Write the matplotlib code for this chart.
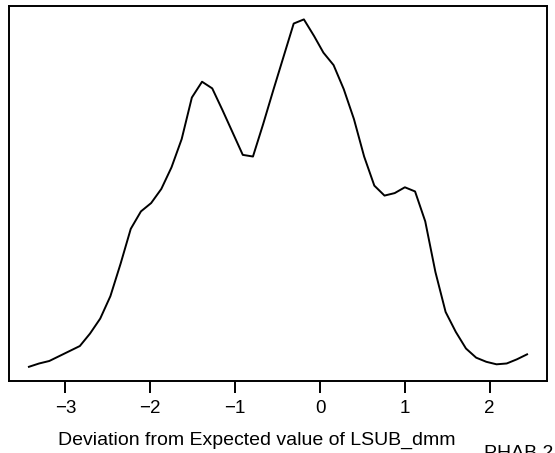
import matplotlib
matplotlib.use("Agg")
import matplotlib.pyplot as plt

plt.rcParams['font.family'] = ['Liberation Sans', 'DejaVu Sans']

# density estimate of deviation (grid values and density)
deviation = [-3.43, -3.31, -3.19, -3.07, -2.95, -2.83, -2.71, -2.59, -2.47, -2.35,
             -2.23, -2.11, -1.99, -1.87, -1.75, -1.63, -1.51, -1.39, -1.27, -1.15,
             -1.03, -0.91, -0.79, -0.67, -0.55, -0.43, -0.31, -0.19, -0.07, 0.04,
             0.16, 0.28, 0.40, 0.52, 0.64, 0.76, 0.88, 1.00, 1.12, 1.24,
             1.36, 1.48, 1.60, 1.72, 1.84, 1.96, 2.08, 2.20, 2.32, 2.44]
density = [0.015, 0.019, 0.022, 0.028, 0.034, 0.040, 0.055, 0.073, 0.100, 0.139,
           0.181, 0.202, 0.212, 0.229, 0.255, 0.289, 0.339, 0.358, 0.350, 0.324,
           0.297, 0.270, 0.268, 0.307, 0.348, 0.388, 0.428, 0.433, 0.413, 0.393,
           0.378, 0.349, 0.313, 0.268, 0.233, 0.221, 0.224, 0.231, 0.226, 0.190,
           0.129, 0.081, 0.057, 0.037, 0.026, 0.021, 0.018, 0.019, 0.024, 0.030]
xticks = [-3, -2, -1, 0, 1, 2]

W, H = 555, 453
fig = plt.figure(figsize=(W / 100, H / 100), dpi=100)
ax = fig.add_axes([9 / W, (H - 380.7) / H, (547 - 9) / W, (380.7 - 5.5) / H])

ax.plot(deviation, density, color="black", lw=1.4)

# R style 4% padding
xr = max(deviation) - min(deviation)
yr = max(density) - min(density)
ax.set_xlim(min(deviation) - 0.04 * xr, max(deviation) + 0.04 * xr)
ax.set_ylim(min(density) - 0.04 * yr, max(density) + 0.04 * yr)

for s in ax.spines.values():
    s.set_linewidth(1.4)
ax.set_yticks([])
ax.set_xticks(xticks)
ax.set_xticklabels([str(t).replace("-", "\u2212") for t in xticks])
ax.tick_params(axis="x", length=8.5, width=1.4, labelsize=13.5, pad=5.5)

fig.text(257 / W, (H - 444.5) / H, "Deviation from Expected value of LSUB_dmm",
         ha="center", va="baseline", fontsize=14)
fig.text(484 / W, (H - 445) / H, "PHAB 2", ha="left", va="top", fontsize=14)

fig.savefig("out.png", dpi=100)
